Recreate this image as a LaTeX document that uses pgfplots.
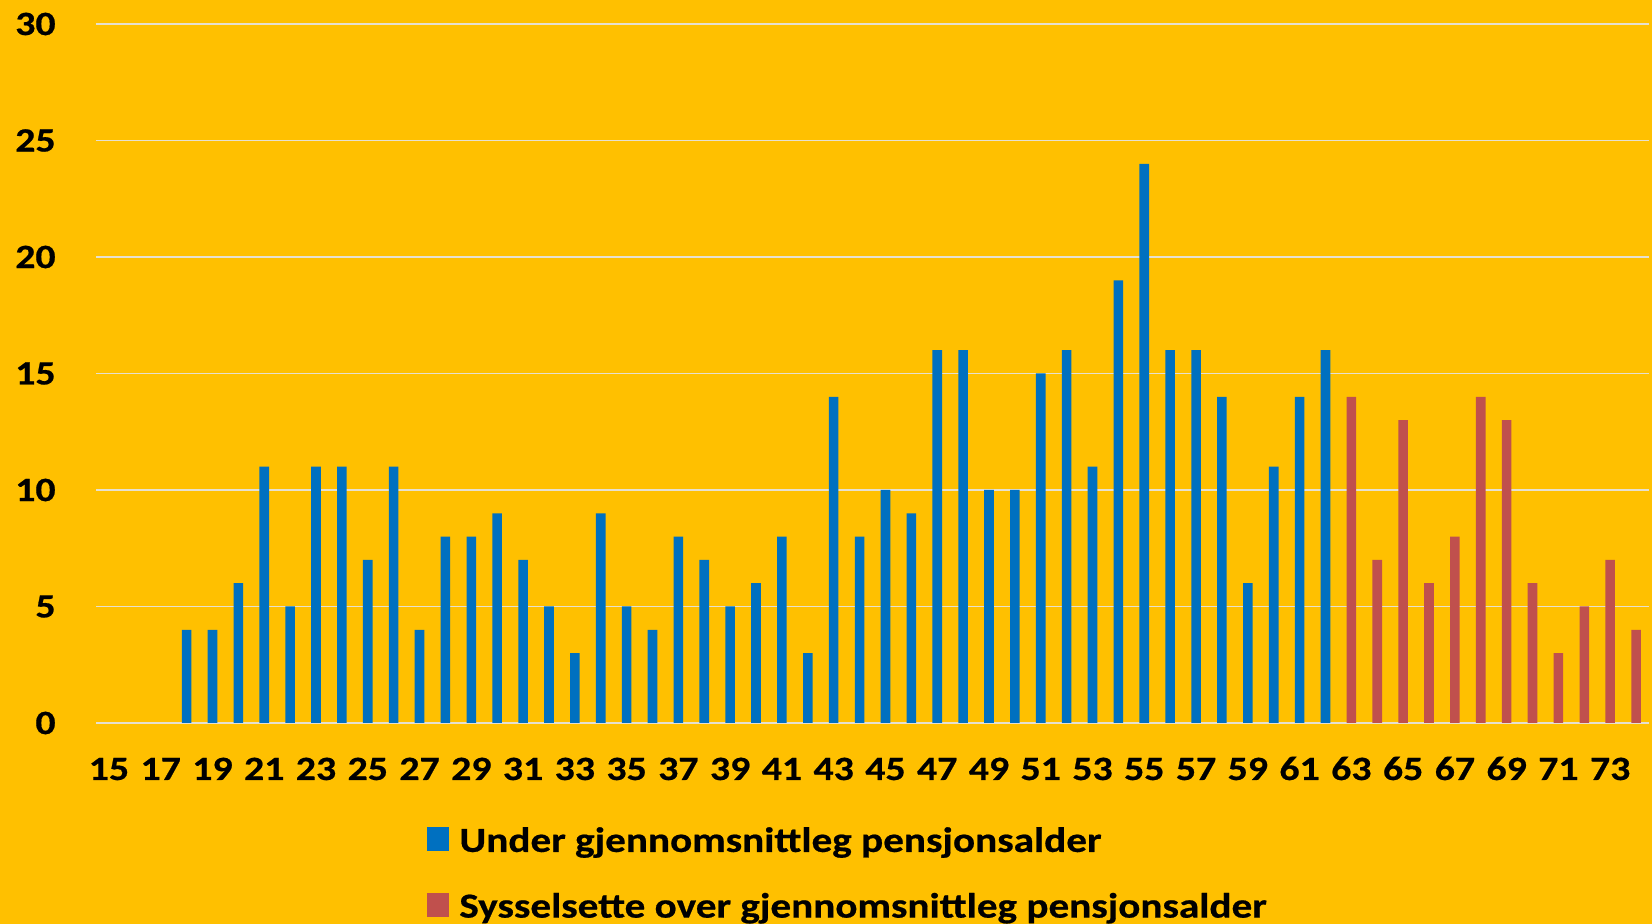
\documentclass[border=0pt]{standalone}
\usepackage{fontspec}
\setmainfont{Carlito}[FakeStretch=1.17, BoldFeatures={FakeBold=0.6}]
\usepackage{pgfplots}
\pgfplotsset{compat=1.18}
\definecolor{bggold}{HTML}{FFC000}
\definecolor{barblue}{HTML}{0070C0}
\definecolor{barred}{HTML}{C0504D}
\definecolor{gridc}{HTML}{E6E0D0}
\begin{document}
\begin{tikzpicture}
\fill[bggold] (0,0) rectangle (826pt,462pt);
\useasboundingbox (0,0) rectangle (826pt,462pt);
\begin{axis}[
  at={(48pt,100.5pt)}, anchor=south west,
  scale only axis, width=776.5pt, height=349.5pt,
  xmin=14.5, xmax=74.5, ymin=0, ymax=30,
  axis line style={draw=none},
  xtick={15,17,...,73},
  ytick={0,5,...,30},
  major tick length=0pt,
  ymajorgrids, grid style={gridc, line width=0.9pt},
  /pgf/number format/assume math mode=true,
  tick label style={font=\bfseries\fontsize{17}{20}\selectfont},
  xticklabel style={anchor=base, yshift=-28.5pt},
  yticklabel style={anchor=east, inner sep=0pt, xshift=-20pt},
  ybar, bar width=4.8pt,
  legend style={at={(0.2131,-0.1428)}, anchor=north west, draw=none, fill=none,
    font=\bfseries\fontsize{17.6}{20}\selectfont, row sep=15pt, inner sep=0pt,
    /tikz/every odd column/.append style={column sep=3pt}},
  legend cell align=left,
  legend image code/.code={\fill[#1] (0pt,-5pt) rectangle (11pt,7pt);},
]
\addplot[fill=barblue, draw=none, bar shift=0pt] coordinates {
(18,4) (19,4) (20,6) (21,11) (22,5) (23,11) (24,11) (25,7) (26,11) (27,4)
(28,8) (29,8) (30,9) (31,7) (32,5) (33,3) (34,9) (35,5) (36,4) (37,8)
(38,7) (39,5) (40,6) (41,8) (42,3) (43,14) (44,8) (45,10) (46,9) (47,16)
(48,16) (49,10) (50,10) (51,15) (52,16) (53,11) (54,19) (55,24) (56,16) (57,16)
(58,14) (59,6) (60,11) (61,14) (62,16)
};
\addlegendentry{Under gjennomsnittleg pensjonsalder}
\addplot[fill=barred, draw=none, bar shift=0pt] coordinates {
(63,14) (64,7) (65,13) (66,6) (67,8) (68,14) (69,13) (70,6) (71,3) (72,5) (73,7) (74,4)
};
\addlegendentry{Sysselsette over gjennomsnittleg pensjonsalder}
\end{axis}
\end{tikzpicture}
\end{document}
